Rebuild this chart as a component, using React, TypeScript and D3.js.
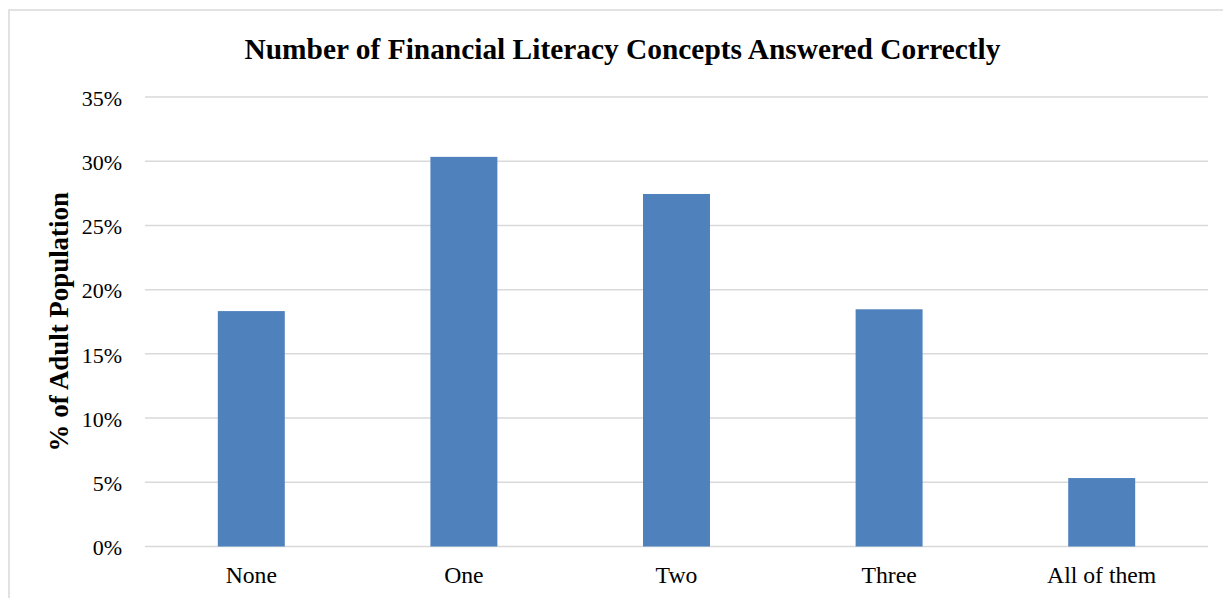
import React from "react";
import * as d3 from "d3";

const categories = ["None", "One", "Two", "Three", "All of them"];
const values = [18.33, 30.34, 27.45, 18.47, 5.33];
const yTicks = [0, 5, 10, 15, 20, 25, 30, 35];
const title = "Number of Financial Literacy Concepts Answered Correctly";
const yLabel = "% of Adult Population";

const W = 1223;
const H = 598;
const plot = { left: 145, right: 1208, top: 97, bottom: 546.5 };
const FONT = "'Liberation Serif', 'Times New Roman', serif";

export default function App() {
  const x = d3.scaleBand<string>().domain(categories).range([plot.left, plot.right]).padding(0);
  const y = d3.scaleLinear().domain([0, 35]).range([plot.bottom, plot.top]);
  const barW = x.bandwidth() * 0.315;

  return (
    <svg
      width={W}
      height={H}
      style={{ position: "absolute", left: 0, top: 0, background: "#fff" }}
    >
      <rect x={9} y={10} width={W + 20} height={H + 20} fill="#fff" stroke="#D9D9D9" strokeWidth={1.5} />
      <text
        x={622.5}
        y={59}
        textAnchor="middle"
        fontFamily={FONT}
        fontWeight="bold"
        fontSize={29.4}
        fill="#000"
      >
        {title}
      </text>
      {yTicks.map((t) => (
        <g key={t}>
          <line x1={plot.left} x2={plot.right} y1={y(t)} y2={y(t)} stroke="#D9D9D9" strokeWidth={1.5} />
          <text
            x={122}
            y={y(t)}
            dy="0.4em"
            textAnchor="end"
            fontFamily={FONT}
            fontSize={22}
            fill="#000"
          >
            {t}%
          </text>
        </g>
      ))}
      {categories.map((c, i) => {
        const cx = (x(c) as number) + x.bandwidth() / 2;
        return (
          <g key={c}>
            <rect
              x={cx - barW / 2}
              y={y(values[i])}
              width={barW}
              height={y(0) - y(values[i])}
              fill="#4F81BD"
            />
            <text x={cx} y={583} textAnchor="middle" fontFamily={FONT} fontSize={23.7} fill="#000">
              {c}
            </text>
          </g>
        );
      })}
      <text
        transform={`translate(68, ${(plot.top + plot.bottom) / 2}) rotate(-90)`}
        textAnchor="middle"
        fontFamily={FONT}
        fontWeight="bold"
        fontSize={26.9}
        fill="#000"
      >
        {yLabel}
      </text>
    </svg>
  );
}
